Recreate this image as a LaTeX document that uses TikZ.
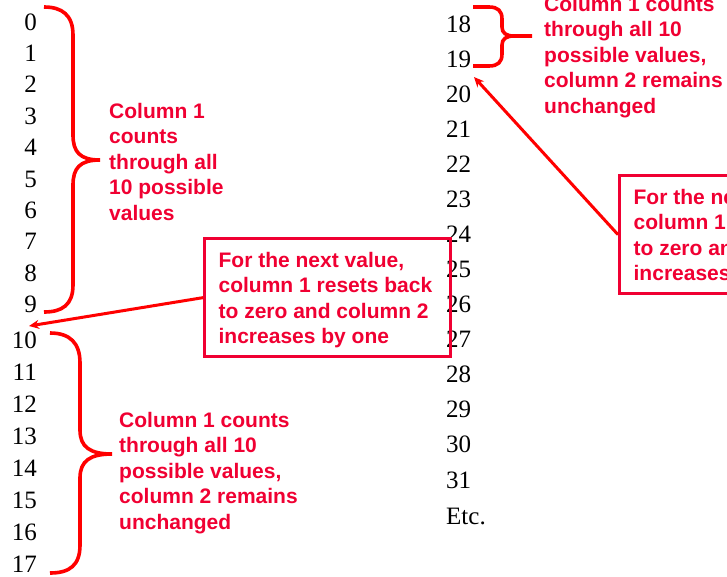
\documentclass[tikz,border=0pt]{standalone}
\usepackage{fontspec}
\setmainfont{Liberation Serif}
\setsansfont{Liberation Sans}
\usepackage{array}
\usetikzlibrary{arrows.meta}
\definecolor{bracered}{RGB}{255,0,0}
\definecolor{notered}{RGB}{240,0,50}
\tikzset{
  num/.style={font=\fontsize{25}{30}\selectfont, inner sep=0pt, text=black},
  note/.style={font=\sffamily\bfseries\fontsize{21}{25.5}\selectfont, text=notered, inner sep=0pt, anchor=base west},
  notebox/.style={font=\sffamily\bfseries\fontsize{21}{25.5}\selectfont, text=notered, draw=notered, line width=3.3pt,
    minimum width=246pt, minimum height=118pt, inner xsep=14pt, inner ysep=5pt, anchor=north west},
  brace/.style={draw=bracered, line width=3.6pt},
  pointer/.style={draw=bracered, line width=3pt, -{Stealth[length=10pt,width=9pt]}},
}
\newcommand{\boxtext}{\begin{tabular}{@{}p{218pt}@{}}\rule{0pt}{23pt}For the next value,\\ column 1 resets back\\ to zero and column 2\\ increases by one\end{tabular}}
\newcommand{\longnote}{\begin{tabular}[t]{@{}l@{}}Column 1 counts\\ through all 10\\ possible values,\\ column 2 remains\\ unchanged\end{tabular}}
\begin{document}
\begin{tikzpicture}[x=1pt,y=-1pt]
\useasboundingbox (0,0) rectangle (727,576);
\clip (0,0) rectangle (727,576);
% left column
\foreach \n in {0,...,9}
  \node[num, anchor=base east] (l\n) at (37,{30+\n*31.4}) {\n};
\foreach \n in {10,...,17}
  \node[num, anchor=base east] (l\n) at (37,{348+(\n-10)*32.1}) {\n};
% right column
\foreach \n [count=\i from 0] in {18,...,31}
  \node[num, anchor=base west] (r\n) at (446,{32+\i*35.08}) {\n};
\node[num, anchor=base west] (etc) at (446,524) {Etc.};
% braces
\draw[brace] (44,7) .. controls (62,7) and (73,15) .. (73,35) -- (73,135)
  .. controls (73,152) and (80,160) .. (100,160)
  .. controls (80,160) and (73,168) .. (73,185) -- (73,285)
  .. controls (73,305) and (62,312) .. (44,312);
\draw[brace] (50,333) .. controls (70,333) and (80,343) .. (80,363) -- (80,430)
  .. controls (80,447) and (90,454) .. (112,454)
  .. controls (90,454) and (80,461) .. (80,478) -- (80,545)
  .. controls (80,565) and (70,573) .. (50,573);
\draw[brace] (473,7) -- (489,7) .. controls (498,7) and (502,11) .. (502,19) -- (502,27)
  .. controls (502,33) and (506,36) .. (514,36) -- (532,36)
  (514,36) .. controls (506,36) and (502,39) .. (502,45) -- (502,54)
  .. controls (502,62) and (498,66) .. (489,66) -- (473,66);
% notes
\node[note] (t1) at (109,118) {\begin{tabular}[t]{@{}l@{}}Column 1\\ counts\\ through all\\ 10 possible\\ values\end{tabular}};
\node[note] (t2) at (119,427) {\longnote};
\node[note] (t3) at (544,11) {\longnote};
% boxes
\node[notebox] (box1) at (203,237) {\boxtext};
\node[notebox] (box2) at (618,174) {\boxtext};
% arrows
\coordinate (tip1) at (29,326);
\coordinate (tip2) at (474,77);
\draw[pointer] (box1.west) -- (tip1);
\draw[pointer] (box2.west) -- (tip2);
\end{tikzpicture}
\end{document}
